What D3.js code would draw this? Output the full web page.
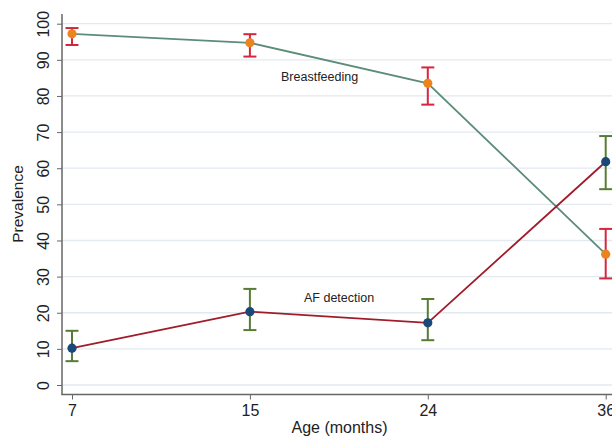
<!DOCTYPE html>
<html>
<head>
<meta charset="utf-8">
<script src="https://cdn.jsdelivr.net/npm/d3@7"></script>
<style>
  body { margin: 0; background: #fff; }
  svg { display: block; font-family: "Liberation Sans", Arial, sans-serif; }
</style>
</head>
<body>
<div id="chart"></div>
<script>
// ages on the x axis (equally spaced categories)
let ages = ["7", "15", "24", "36"];

// breastfeeding prevalence with 95% CI
let bf_value = [97.2, 94.7, 83.5, 36.2];
let bf_lower = [94.1, 90.9, 77.6, 29.5];
let bf_upper = [98.8, 97.1, 87.9, 43.2];

// AF detection prevalence with 95% CI
let af_value = [10.2, 20.3, 17.2, 61.8];
let af_lower = [6.6, 15.2, 12.4, 54.2];
let af_upper = [15.0, 26.6, 23.8, 68.9];

let y_ticks = [0, 10, 20, 30, 40, 50, 60, 70, 80, 90, 100];

let width = 612, height = 438;

let svg = d3.select("#chart").append("svg")
  .attr("width", width)
  .attr("height", height);

let x = d3.scalePoint().domain(ages).range([72, 605.7]).padding(0);
let y = d3.scaleLinear().domain([0, 100]).range([385, 23.7]);

let plot_left = 62, plot_bottom = 394.5;

// gridlines
svg.append("g").selectAll("line")
  .data(y_ticks).enter()
  .append("line")
  .attr("x1", plot_left)
  .attr("x2", width)
  .attr("y1", d => y(d))
  .attr("y2", d => y(d))
  .attr("stroke", "rgb(226,234,240)")
  .attr("stroke-width", 1.3);

// y axis
let yAxis = d3.axisLeft(y).tickValues(y_ticks).tickSize(5).tickPadding(4);
let gy = svg.append("g")
  .attr("transform", "translate(" + plot_left + ",0)")
  .call(yAxis);
gy.select(".domain").remove();
gy.append("line")
  .attr("x1", 0).attr("x2", 0)
  .attr("y1", 14).attr("y2", plot_bottom)
  .attr("stroke", "#666").attr("stroke-width", 1.5);
gy.selectAll(".tick line").attr("stroke", "#666");
gy.selectAll(".tick text")
  .attr("x", 0)
  .attr("text-anchor", "middle")
  .attr("transform", "translate(-13,0) rotate(-90)")
  .attr("dy", "0")
  .attr("font-size", 16)
  .attr("fill", "#222")
  .attr("font-family", "Liberation Sans, Arial, sans-serif");

// x axis
let xAxis = d3.axisBottom(x).tickSize(5).tickPadding(5);
let gx = svg.append("g")
  .attr("transform", "translate(0," + plot_bottom + ")")
  .call(xAxis);
gx.select(".domain").remove();
gx.append("line")
  .attr("x1", plot_left - 0.75).attr("x2", width)
  .attr("y1", 0).attr("y2", 0)
  .attr("stroke", "#666").attr("stroke-width", 1.5);
gx.selectAll(".tick line").attr("stroke", "#666");
gx.selectAll(".tick text")
  .attr("font-size", 16)
  .attr("fill", "#222")
  .attr("font-family", "Liberation Sans, Arial, sans-serif");

// axis titles
svg.append("text")
  .attr("x", 339.5).attr("y", 433)
  .attr("text-anchor", "middle")
  .attr("font-size", 16)
  .attr("fill", "#222")
  .text("Age (months)");

svg.append("text")
  .attr("transform", "translate(23,204) rotate(-90)")
  .attr("text-anchor", "middle")
  .attr("font-size", 15.5)
  .attr("fill", "#222")
  .text("Prevalence");

function drawSeries(values, lower, upper, lineColor, ciColor, dotColor) {
  let pts = ages.map((a, i) => ({ a: a, v: values[i], lo: lower[i], hi: upper[i] }));
  let line = d3.line().x(d => x(d.a)).y(d => y(d.v));

  svg.append("path")
    .datum(pts)
    .attr("d", line)
    .attr("fill", "none")
    .attr("stroke", lineColor)
    .attr("stroke-width", 1.8);

  let ci = svg.append("g").selectAll("g")
    .data(pts).enter().append("g")
    .attr("stroke", ciColor)
    .attr("stroke-width", 2);
  ci.append("line")
    .attr("x1", d => x(d.a)).attr("x2", d => x(d.a))
    .attr("y1", d => y(d.lo)).attr("y2", d => y(d.hi));
  ci.append("line")
    .attr("x1", d => x(d.a) - 6.5).attr("x2", d => x(d.a) + 6.5)
    .attr("y1", d => y(d.lo)).attr("y2", d => y(d.lo));
  ci.append("line")
    .attr("x1", d => x(d.a) - 6.5).attr("x2", d => x(d.a) + 6.5)
    .attr("y1", d => y(d.hi)).attr("y2", d => y(d.hi));

  svg.append("g").selectAll("circle")
    .data(pts).enter().append("circle")
    .attr("cx", d => x(d.a))
    .attr("cy", d => y(d.v))
    .attr("r", 4.6)
    .attr("fill", dotColor);
}

drawSeries(bf_value, bf_lower, bf_upper, "rgb(92,140,122)", "rgb(214,38,62)", "rgb(236,132,30)");
drawSeries(af_value, af_lower, af_upper, "rgb(160,28,42)", "rgb(88,124,52)", "rgb(26,72,122)");

// series labels
svg.append("text")
  .attr("x", 281).attr("y", 80.5)
  .attr("font-size", 12.5)
  .attr("fill", "#222")
  .text("Breastfeeding");

svg.append("text")
  .attr("x", 304).attr("y", 302)
  .attr("font-size", 12.5)
  .attr("fill", "#222")
  .text("AF detection");
</script>
</body>
</html>
